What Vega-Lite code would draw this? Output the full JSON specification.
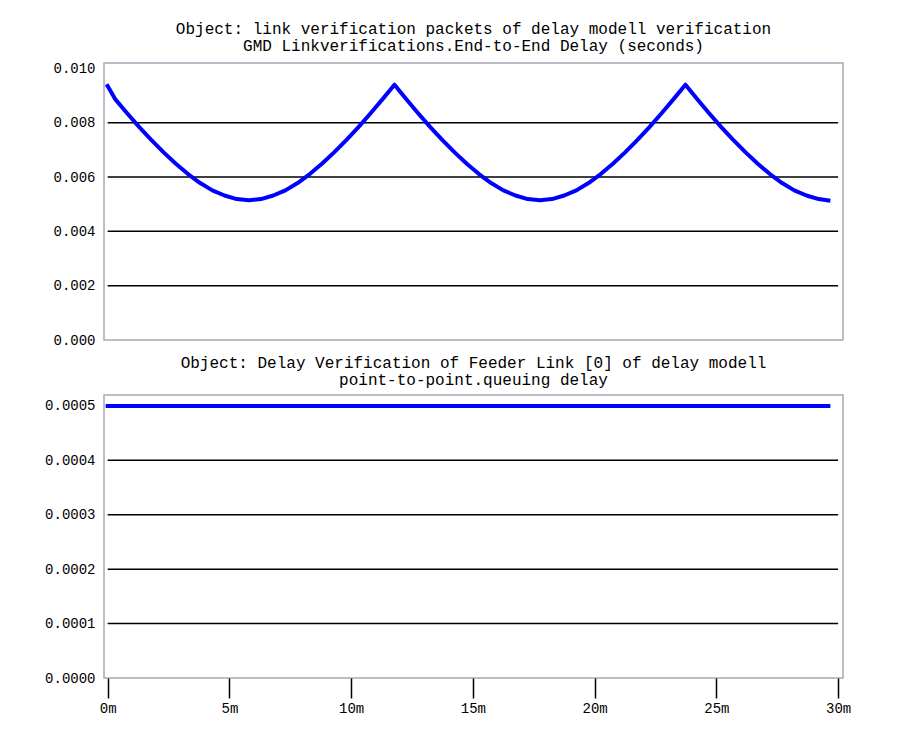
{
  "$schema": "https://vega.github.io/schema/vega-lite/v6.json",
  "background": "white",
  "padding": {"left": 43, "top": 20, "right": 5, "bottom": 5},
  "spacing": 6,
  "config": {
    "font": "Liberation Mono",
    "view": {"stroke": "#a8a8b8", "strokeWidth": 1.5},
    "title": {"font": "Liberation Mono", "fontSize": 16, "fontWeight": "normal", "color": "black", "anchor": "middle", "lineHeight": 17, "offset": 7},
    "axis": {"labelFont": "Liberation Mono", "labelFontSize": 14, "labelColor": "black", "grid": false, "domain": false, "title": null}
  },
  "vconcat": [
    {
      "width": 739,
      "height": 277,
      "title": {"text": ["Object: link verification packets of delay modell verification", "GMD Linkverifications.End-to-End Delay (seconds)"]},
      "layer": [
        {
          "data": {"values": [{"g": 0.002}, {"g": 0.004}, {"g": 0.006}, {"g": 0.008}]},
          "mark": {"type": "rule", "color": "black", "strokeWidth": 1.5},
          "encoding": {
            "x": {"datum": 0, "type": "quantitative"},
            "x2": {"datum": 30},
            "y": {"field": "g", "type": "quantitative"}
          }
        },
        {
          "data": {"values": [
            {"t": 0, "d": 0.00935}, {"t": 0.3, "d": 0.00888}, {"t": 0.8, "d": 0.00835}, {"t": 1.3, "d": 0.00784},
            {"t": 1.8, "d": 0.00736}, {"t": 2.3, "d": 0.00691}, {"t": 2.8, "d": 0.00649}, {"t": 3.3, "d": 0.00611},
            {"t": 3.8, "d": 0.00578}, {"t": 4.3, "d": 0.00551}, {"t": 4.8, "d": 0.00532}, {"t": 5.3, "d": 0.00519},
            {"t": 5.8, "d": 0.00515}, {"t": 6.3, "d": 0.00519}, {"t": 6.8, "d": 0.00532}, {"t": 7.3, "d": 0.00551},
            {"t": 7.8, "d": 0.00578}, {"t": 8.3, "d": 0.00611}, {"t": 8.8, "d": 0.00649}, {"t": 9.3, "d": 0.00691},
            {"t": 9.8, "d": 0.00736}, {"t": 10.3, "d": 0.00784}, {"t": 10.8, "d": 0.00835}, {"t": 11.3, "d": 0.00888},
            {"t": 11.78, "d": 0.0094}, {"t": 12.25, "d": 0.00888}, {"t": 12.75, "d": 0.00835}, {"t": 13.25, "d": 0.00784},
            {"t": 13.75, "d": 0.00736}, {"t": 14.25, "d": 0.00691}, {"t": 14.75, "d": 0.00649}, {"t": 15.25, "d": 0.00611},
            {"t": 15.75, "d": 0.00578}, {"t": 16.25, "d": 0.00551}, {"t": 16.75, "d": 0.00532}, {"t": 17.25, "d": 0.00519},
            {"t": 17.75, "d": 0.00515}, {"t": 18.25, "d": 0.00519}, {"t": 18.75, "d": 0.00532}, {"t": 19.25, "d": 0.00551},
            {"t": 19.75, "d": 0.00578}, {"t": 20.25, "d": 0.00611}, {"t": 20.75, "d": 0.00649}, {"t": 21.25, "d": 0.00691},
            {"t": 21.75, "d": 0.00736}, {"t": 22.25, "d": 0.00784}, {"t": 22.75, "d": 0.00835}, {"t": 23.25, "d": 0.00888},
            {"t": 23.73, "d": 0.0094}, {"t": 24.2, "d": 0.00888}, {"t": 24.7, "d": 0.00835}, {"t": 25.2, "d": 0.00784},
            {"t": 25.7, "d": 0.00736}, {"t": 26.2, "d": 0.00691}, {"t": 26.7, "d": 0.00649}, {"t": 27.2, "d": 0.00611},
            {"t": 27.7, "d": 0.00578}, {"t": 28.2, "d": 0.00551}, {"t": 28.7, "d": 0.00532}, {"t": 29.2, "d": 0.00519},
            {"t": 29.6, "d": 0.00514}
          ]},
          "mark": {"type": "line", "color": "#0000ff", "strokeWidth": 4, "strokeJoin": "round", "strokeCap": "square"},
          "encoding": {
            "x": {"field": "t", "type": "quantitative", "scale": {"domain": [-0.15, 30.2], "nice": false, "zero": false}, "axis": null},
            "y": {"field": "d", "type": "quantitative", "scale": {"domain": [0, 0.0102], "nice": false, "zero": false},
                  "axis": {"values": [0, 0.002, 0.004, 0.006, 0.008, 0.01], "format": ".3f", "ticks": false, "labelPadding": 9}}
          }
        }
      ]
    },
    {
      "width": 739,
      "height": 283,
      "title": {"text": ["Object: Delay Verification of Feeder Link [0] of delay modell", "point-to-point.queuing delay"]},
      "layer": [
        {
          "data": {"values": [{"g": 0.0001}, {"g": 0.0002}, {"g": 0.0003}, {"g": 0.0004}]},
          "mark": {"type": "rule", "color": "black", "strokeWidth": 1.5},
          "encoding": {
            "x": {"datum": 0, "type": "quantitative"},
            "x2": {"datum": 30},
            "y": {"field": "g", "type": "quantitative"}
          }
        },
        {
          "data": {"values": [{"t": 0, "q": 0.0005}, {"t": 29.6, "q": 0.0005}]},
          "mark": {"type": "line", "color": "#0000ff", "strokeWidth": 4, "strokeCap": "square"},
          "encoding": {
            "x": {"field": "t", "type": "quantitative", "scale": {"domain": [-0.15, 30.2], "nice": false, "zero": false},
                  "axis": {"values": [0, 5, 10, 15, 20, 25, 30], "labelExpr": "datum.value + 'm'", "ticks": true, "tickSize": 20, "tickColor": "black", "tickWidth": 1.5, "labelPadding": 3}},
            "y": {"field": "q", "type": "quantitative", "scale": {"domain": [0, 0.00052], "nice": false, "zero": false},
                  "axis": {"values": [0, 0.0001, 0.0002, 0.0003, 0.0004, 0.0005], "format": ".4f", "ticks": false, "labelPadding": 9}}
          }
        }
      ]
    }
  ]
}
